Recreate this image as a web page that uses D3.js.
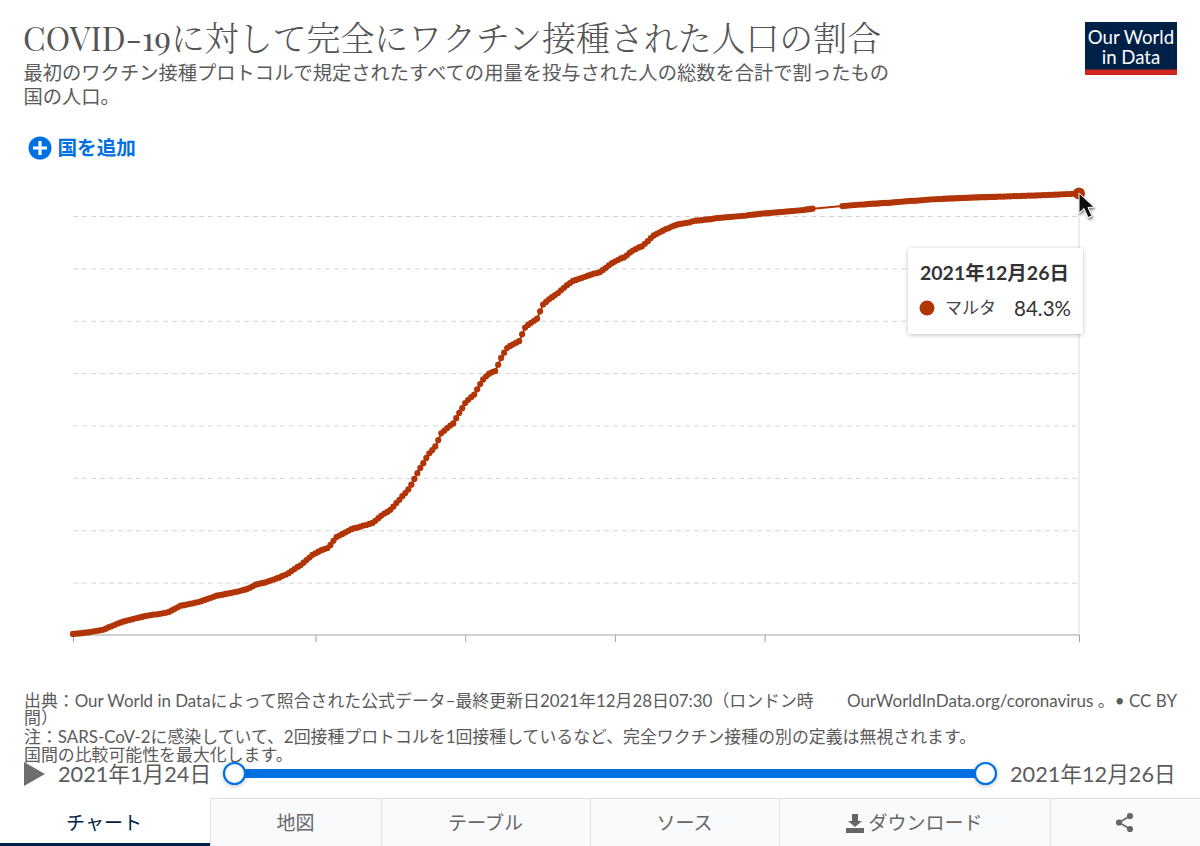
<!DOCTYPE html>
<html lang="ja"><head><meta charset="utf-8">
<script src="https://cdn.jsdelivr.net/npm/d3@7/dist/d3.min.js"></script>
<style>
html,body{margin:0;padding:0;background:#fff;overflow:hidden}
svg{display:block}
text{font-family:Lato,"Noto Sans CJK JP",sans-serif}
</style></head><body>
<svg id="c" width="1200" height="846"></svg>
<script>
const firstDate = "2021-01-24";
const lastDate = "2021-12-26";
const countryName = "マルタ";
const xTickDates = ["2021-01-24","2021-04-15","2021-06-04","2021-07-24","2021-09-12","2021-12-26"];
const yTickValues = [10,20,30,40,50,60,70,80];
// Share of population fully vaccinated, one value per day from firstDate (null = no report)
const values = [
0.2,0.25,0.3,0.35,0.45,0.5,0.6,0.7,0.8,0.9,1.0,
1.2,1.5,1.7,1.95,2.2,2.4,
2.6,2.75,2.9,3.05,3.2,3.3,3.45,3.6,
3.7,3.8,3.9,3.95,4.05,4.15,4.25,4.4,
4.7,5.0,5.3,5.6,
5.7,5.8,5.95,6.05,6.2,6.3,
6.5,6.7,6.9,7.1,7.3,7.5,
7.6,7.7,7.85,7.95,8.05,8.2,8.3,8.45,8.6,8.75,
9.0,9.3,9.6,
9.75,9.9,10.0,10.2,10.4,10.6,
10.8,11.0,11.3,11.5,11.8,
12.2,12.6,13.0,13.3,
13.8,14.3,14.8,15.3,
15.6,15.9,16.2,16.4,16.6,
17.2,18.0,18.7,
19.0,19.3,19.6,19.9,20.2,
20.4,20.5,20.7,20.9,21.0,21.2,21.4,
21.8,22.3,22.8,
23.2,23.5,23.9,
24.5,25.2,25.8,
26.5,27.1,27.8,
28.7,29.8,30.9,
31.9,32.8,
33.8,34.7,
35.3,36.0,37.2,
38.5,
39.0,39.5,40.0,40.4,
41.4,42.4,
43.3,44.3,
44.9,45.4,45.9,
46.9,47.9,48.8,
49.4,49.9,50.2,50.4,
51.6,52.9,
53.9,54.8,
55.2,55.5,55.8,56.1,
57.4,58.7,
59.2,59.6,60.0,60.4,
61.8,63.1,
63.6,64.1,64.5,64.9,65.3,
65.8,66.3,66.8,67.2,67.6,
67.8,68.0,68.2,68.4,68.6,68.8,69.0,69.1,69.3,
69.7,70.1,70.6,71.0,
71.3,71.6,71.9,72.1,
72.5,73.0,73.4,
73.7,74.0,74.2,
74.7,75.2,75.8,76.3,
76.6,76.9,77.2,77.5,77.7,78.0,78.2,
78.4,78.5,78.6,78.7,78.8,79.0,79.1,
79.15,79.2,79.3,79.35,79.4,79.5,79.6,
79.65,79.7,79.75,79.8,79.85,79.9,79.95,80.0,
80.05,80.1,80.2,80.25,80.3,80.4,
80.45,80.5,80.55,80.6,80.65,80.7,80.75,80.8,80.85,80.9,80.95,81.0,81.05,81.1,81.15,81.25,81.3,81.4,
null,null,null,null,null,null,null,null,null,
81.9,81.95,82.0,82.05,82.1,82.15,82.2,82.2,82.25,82.3,82.35,82.35,82.4,82.45,82.5,82.5,82.55,82.6,82.65,82.7,
82.75,82.8,82.85,82.9,82.9,82.95,83.0,83.05,83.1,83.15,83.2,
83.2,83.25,83.25,83.3,83.3,83.35,83.35,83.4,83.4,83.45,83.45,83.5,83.5,83.55,83.55,83.6,83.6,83.6,83.65,83.65,83.65,83.7,83.7,
83.7,83.75,83.75,83.8,83.8,83.8,83.85,83.85,83.9,83.9,83.9,83.95,83.95,84.0,84.0,84.05,84.05,84.1,84.1,84.15,84.15,84.2,84.2,84.25,84.25,84.3
];
const tabLabels = ["チャート","地図","テーブル","ソース","ダウンロード",""];
const tabEdges = [0,210,381,590,779,1050,1200];

const svg = d3.select("#c");
const parse = d3.utcParse("%Y-%m-%d");
const x = d3.scaleUtc().domain([parse(firstDate),parse(lastDate)]).range([73,1079]);
const y = d3.scaleLinear().domain([0,80]).range([635,216]);
const LINE = "#b13507", GREY="#5b5b5b", BLUE="#0071e3", NAVY="#002147";
const data = values.map((v,i)=>({date:d3.utcDay.offset(parse(firstDate),i),v})).filter(d=>d.v!==null);

const defs = svg.append("defs");
const sh = defs.append("filter").attr("id","sh").attr("x","-20%").attr("y","-20%").attr("width","140%").attr("height","140%");
sh.append("feDropShadow").attr("dx",0).attr("dy",1).attr("stdDeviation",2).attr("flood-color","#000").attr("flood-opacity",.25);
const sh2 = defs.append("filter").attr("id","sh2").attr("x","-40%").attr("y","-40%").attr("width","200%").attr("height","200%");
sh2.append("feDropShadow").attr("dx",1).attr("dy",2).attr("stdDeviation",1.2).attr("flood-color","#000").attr("flood-opacity",.5);

function txt(t,xx,yy,size,fill,opts={}){
  const e = svg.append("text").attr("x",xx).attr("y",yy).attr("font-size",size).attr("fill",fill).text(t);
  for(const k in opts) e.attr(k,opts[k]);
  return e;
}

// Header
const title = svg.append("text").attr("x",23).attr("y",51).attr("fill","#555").attr("font-size",33.9)
  .style("font-family",'"Playfair Display","Noto Serif CJK JP","Liberation Serif","Noto Sans CJK JP",serif');
title.append("tspan").text("COVID-19").attr("font-size",33);
title.append("tspan").text("に対して完全にワクチン接種された人口の割合").style("font-weight",300);
txt("最初のワクチン接種プロトコルで規定されたすべての用量を投与された人の総数を合計で割ったもの",23.5,80,19.3,GREY);
txt("国の人口。",23.5,104,19.3,GREY);

// Logo
svg.append("rect").attr("x",1085).attr("y",22).attr("width",92).attr("height",53).attr("fill",NAVY);
svg.append("rect").attr("x",1085).attr("y",69.5).attr("width",92).attr("height",5.5).attr("fill","#ce261e");
txt("Our World",1131,43.5,18.6,"#fff",{"text-anchor":"middle"});
txt("in Data",1131,63.5,18.6,"#fff",{"text-anchor":"middle"});

// Add country
svg.append("circle").attr("cx",40).attr("cy",148).attr("r",11.5).attr("fill",BLUE);
svg.append("path").attr("d","M33 148H47M40 141V155").attr("stroke","#fff").attr("stroke-width",3.2);
txt("国を追加",57.5,155,19.6,BLUE,{"font-weight":700});

// Grid
const gridG = svg.append("g").attr("transform","translate(73,0)")
  .call(d3.axisLeft(y).tickValues(yTickValues).tickSize(-1006).tickFormat(""));
gridG.select(".domain").remove();
gridG.selectAll("line").attr("stroke","#d4d4d4").attr("stroke-dasharray","5,4");

// Hover rule
svg.append("line").attr("x1",x(parse(lastDate))).attr("x2",x(parse(lastDate))).attr("y1",y(84.3)).attr("y2",635).attr("stroke","#ddd");

// X axis
const xG = svg.append("g").attr("transform","translate(0,635)")
  .call(d3.axisBottom(x).tickValues(xTickDates.map(parse)).tickSize(7).tickFormat(""));
xG.select(".domain").attr("stroke","#a3a3a3").attr("d","M73,0H1079");
xG.selectAll("line").attr("stroke","#a3a3a3");

// Line and points
svg.append("path").datum(data).attr("fill","none").attr("stroke",LINE).attr("stroke-width",2)
  .attr("d",d3.line().x(d=>x(d.date)).y(d=>y(d.v)));
svg.append("g").selectAll("circle").data(data).join("circle")
  .attr("cx",d=>x(d.date)).attr("cy",d=>y(d.v)).attr("r",3.1).attr("fill",LINE);
const last = data[data.length-1];
svg.append("circle").attr("cx",x(last.date)).attr("cy",y(last.v)).attr("r",6).attr("fill",LINE);

// Cursor
svg.append("path").attr("d","M1079 193L1079 213L1084 208.5L1088 217.5L1092 216L1088 207.5L1094 207Z")
  .attr("fill","#111").attr("stroke","#fff").attr("stroke-width",1).attr("filter","url(#sh2)");

// Tooltip
svg.append("rect").attr("x",908).attr("y",248).attr("width",175).attr("height",86).attr("rx",3).attr("fill","#fff").attr("filter","url(#sh)");
txt("2021年12月26日",920,280,19.5,"#333",{"font-weight":700});
svg.append("circle").attr("cx",927).attr("cy",308).attr("r",7.5).attr("fill",LINE);
txt(countryName,945,314,17,"#444");
txt(last.v.toFixed(1)+"%",1071,316,20.5,"#333",{"text-anchor":"end"});

// Footer
txt("出典：Our World in Dataによって照合された公式データ–最終更新日2021年12月28日07:30（ロンドン時",24,707,16.9,GREY);
txt("間）",24,724,16.9,GREY);
txt("OurWorldInData.org/coronavirus 。• CC BY",1177,707,17,GREY,{"text-anchor":"end"});
txt("注：SARS-CoV-2に感染していて、2回接種プロトコルを1回接種しているなど、完全ワクチン接種の別の定義は無視されます。",24,743,16.9,GREY);
txt("国間の比較可能性を最大化します。",24,761,16.9,GREY);

// Timeline
svg.append("path").attr("d","M24 762L45 774L24 786Z").attr("fill","#6e6e6e");
txt("2021年1月24日",58,782,21.7,GREY);
txt("2021年12月26日",1010,782,21.7,GREY);
svg.append("rect").attr("x",234).attr("y",769).attr("width",751).attr("height",9).attr("fill",BLUE);
[234.5,985.5].forEach(cx=>svg.append("circle").attr("cx",cx).attr("cy",773.5).attr("r",10.5).attr("fill","#fff").attr("stroke",BLUE).attr("stroke-width",2.2).attr("filter","url(#sh)"));

// Tabs
tabLabels.forEach((t,i)=>{
  const a=tabEdges[i],b=tabEdges[i+1];
  svg.append("rect").attr("x",a).attr("y",798).attr("width",b-a).attr("height",48).attr("fill",i==0?"#fff":"#f8fafc");
  if(i>0){
    svg.append("path").attr("d",`M${a+.5} 846V798.5H${b}`).attr("fill","none").attr("stroke","#dde0e4");
  }
  if(t) txt(t,i==4?925.5:(a+b)/2-(i==0?1:0),829.5,19,i==0?NAVY:"#666",{"text-anchor":"middle"});
});
svg.append("rect").attr("x",0).attr("y",843).attr("width",210).attr("height",3).attr("fill",NAVY);
// Download icon
svg.append("path").attr("d","M852 814H858V821H862L855 827L848 821H852ZM846 828H864V833H846Z").attr("fill","#666");
// Share icon
const sg=svg.append("g").attr("fill","#666");
[[1130,816],[1119,822.5],[1130,829]].forEach(p=>sg.append("circle").attr("cx",p[0]).attr("cy",p[1]).attr("r",3.1));
svg.append("path").attr("d","M1130 816L1119 822.5L1130 829").attr("fill","none").attr("stroke","#666").attr("stroke-width",1.6);
</script>
</body></html>
